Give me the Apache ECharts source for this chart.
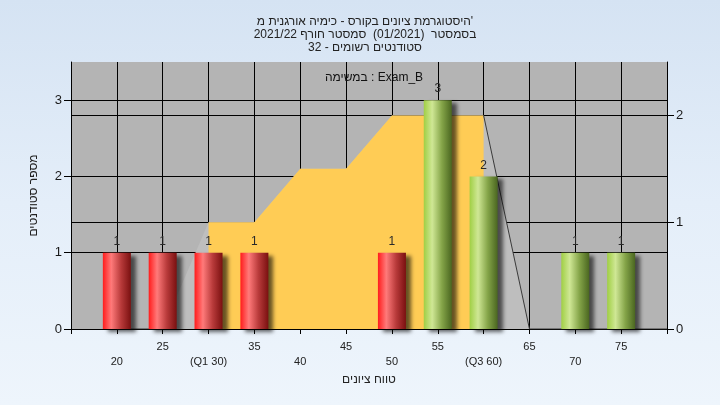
<!DOCTYPE html>
<html>
<head>
<meta charset="utf-8">
<script src="https://cdn.jsdelivr.net/npm/echarts@6/dist/echarts.min.js"></script>
<style>
html,body{margin:0;padding:0;width:720px;height:405px;overflow:hidden;
background:linear-gradient(180deg,#d5e3f3 0%,#e4eef9 50%,#eef5fc 100%);}
#c{width:720px;height:405px;}
</style>
</head>
<body>
<div id="c"></div>
<script>
// ---- data ----
const titleLines = [
  "היסטוגרמת ציונים בקורס - כימיה אורגנית מ'",
  "בסמסטר  (01/2021)  סמסטר חורף 2021/22",
  "סטודנטים רשומים - 32"
];
const subTitle = "במשימה : Exam_B";
const xAxisName = "טווח ציונים";
const yAxisName = "מספר סטודנטים";

const scores = [20, 25, 30, 35, 50, 55, 60, 70, 75];
const counts = [1, 1, 1, 1, 1, 3, 2, 1, 1];
const passFrom = 55;

const tickValues = [20, 25, 30, 35, 40, 45, 50, 55, 60, 65, 70, 75];
const tickLabels = ['20', '25', '(Q1 30)', '35', '40', '45', '50', '55', '(Q3 60)', '65', '70', '75'];

const curveX = [25, 30, 35, 40, 45, 50, 55, 60, 65];
const curveY = [0, 1, 1, 1.5, 1.5, 2, 2, 2, 0];
const iqrX = [30, 35, 40, 45, 50, 55, 60];
const iqrY = [1, 1, 1.5, 1.5, 2, 2, 2];
const lineX = [20, 25, 25, 60, 65, 80];
const lineY = [0, 0, '-', 2, 0, 0];

const leftTicks = [0, 1, 2, 3];
const rightTicks = [0, 1, 2];

// ---- chart ----
const FONT = 'Liberation Sans';
const redGrad = new echarts.graphic.LinearGradient(0, 0, 1, 0, [
  {offset: 0, color: '#ff1c1c'}, {offset: 0.3, color: '#ff7a7a'},
  {offset: 0.65, color: '#b83a3a'}, {offset: 1, color: '#7a1010'}]);
const greenGrad = new echarts.graphic.LinearGradient(0, 0, 1, 0, [
  {offset: 0, color: '#a0cf44'}, {offset: 0.3, color: '#cfe795'},
  {offset: 0.65, color: '#84a448'}, {offset: 1, color: '#4a6620'}]);

const chart = echarts.init(document.getElementById('c'), null, {renderer: 'canvas'});
chart.setOption({
  backgroundColor: 'transparent',
  animation: false,
  textStyle: {fontFamily: FONT},
  title: [
    {text: titleLines.join('\n'), left: 360, top: 10, textAlign: 'center',
     textStyle: {fontSize: 12, fontWeight: 'normal', color: '#222', lineHeight: 13, fontFamily: FONT}},
    {text: subTitle, left: 369, top: 67, textAlign: 'center',
     textStyle: {fontSize: 12, fontWeight: 'normal', color: '#111', fontFamily: FONT}}
  ],
  grid: {left: 71, right: 53, top: 62, bottom: 76, show: true, backgroundColor: '#b4b4b4', borderWidth: 0},
  xAxis: {
    type: 'value', min: 15, max: 80, interval: 5,
    name: xAxisName, nameLocation: 'middle', nameGap: 45,
    nameTextStyle: {fontSize: 12, color: '#222', fontFamily: FONT},
    axisLine: {show: true, onZero: false, lineStyle: {color: '#000', width: 1}},
    axisTick: {show: true, length: 5, lineStyle: {color: '#000'}},
    splitLine: {show: true, lineStyle: {color: '#000', width: 1}},
    axisLabel: {
      margin: 10, fontSize: 11, color: '#222', lineHeight: 15, fontFamily: FONT,
      formatter: function (v) {
        const i = tickValues.indexOf(v);
        if (i < 0) return '';
        return (i % 2 === 0 ? '\n' : '') + tickLabels[i];
      }
    }
  },
  yAxis: [
    {type: 'value', min: 0, max: 3.5, interval: 1, position: 'left',
     name: yAxisName, nameLocation: 'middle', nameGap: 31, nameRotate: 90,
     nameTextStyle: {fontSize: 12, color: '#222', fontFamily: FONT},
     axisLine: {show: true, lineStyle: {color: '#000'}},
     axisTick: {show: true, length: 7, customValues: leftTicks, lineStyle: {color: '#000'}},
     axisLabel: {margin: 9, fontSize: 13, color: '#1a1a1a', customValues: leftTicks, fontFamily: FONT},
     splitLine: {show: true, lineStyle: {color: '#000'}}},
    {type: 'value', min: 0, max: 2.5, interval: 1, position: 'right',
     axisLine: {show: true, lineStyle: {color: '#000'}},
     axisTick: {show: true, length: 7, customValues: rightTicks, lineStyle: {color: '#000'}},
     axisLabel: {margin: 9, fontSize: 13, color: '#1a1a1a', customValues: rightTicks, fontFamily: FONT},
     splitLine: {show: true, lineStyle: {color: '#000'}}}
  ],
  series: [
    {type: 'line', yAxisIndex: 1, data: curveX.map((x, i) => [x, curveY[i]]),
     symbol: 'none', lineStyle: {width: 0}, areaStyle: {color: '#bebebe', opacity: 1}, z: 1, silent: true},
    {type: 'line', yAxisIndex: 1, data: iqrX.map((x, i) => [x, iqrY[i]]),
     symbol: 'none', lineStyle: {width: 0}, areaStyle: {color: '#ffcc55', opacity: 1}, z: 2, silent: true},
    {type: 'line', yAxisIndex: 1, data: lineX.map((x, i) => [x, lineY[i]]),
     symbol: 'none', connectNulls: false, lineStyle: {width: 1, color: '#3a3a3a'}, z: 3, silent: true},
    {type: 'bar', yAxisIndex: 0, barWidth: 28, z: 4,
     data: scores.map((s, i) => ({value: [s, counts[i]],
       itemStyle: {color: s >= passFrom ? greenGrad : redGrad}})),
     itemStyle: {shadowColor: 'rgba(0,0,0,0.6)', shadowBlur: 4, shadowOffsetX: 5, shadowOffsetY: 3},
     label: {show: true, position: 'top', distance: 5, fontSize: 12, color: '#2a2a2a', fontFamily: FONT,
       formatter: p => String(p.value[1])}}
  ]
});
</script>
</body>
</html>
